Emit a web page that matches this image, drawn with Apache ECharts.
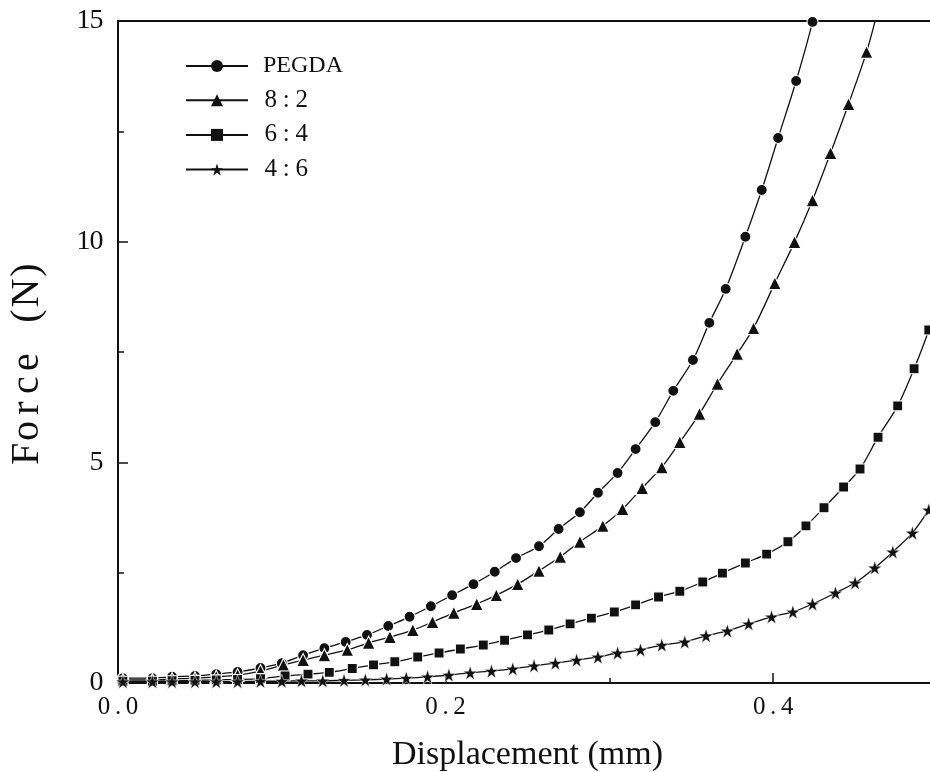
<!DOCTYPE html>
<html>
<head>
<meta charset="utf-8">
<script src="https://cdn.jsdelivr.net/npm/echarts@6/dist/echarts.min.js"></script>
<style>html,body{margin:0;padding:0;background:#fff}#c{width:930px;height:772px}</style>
</head>
<body>
<div id="c"></div>
<script>
// ---- data (Displacement in mm, Force in N) ----
const seriesNames = ['PEGDA', '8:2', '6:4', '4:6'];

const pegdaX = [0.003,0.021,0.033,0.047,0.060,0.073,0.087,0.100,0.113,0.126,0.139,0.152,0.165,0.178,0.191,0.204,0.217,0.230,0.243,0.257,0.269,0.282,0.293,0.305,0.316,0.328,0.339,0.351,0.361,0.371,0.383,0.393,0.403,0.414,0.424,0.433];
const pegdaY = [0.11,0.11,0.14,0.16,0.20,0.25,0.34,0.45,0.63,0.79,0.93,1.09,1.29,1.50,1.74,1.99,2.24,2.52,2.83,3.10,3.49,3.87,4.31,4.76,5.30,5.91,6.62,7.32,8.16,8.93,10.11,11.17,12.35,13.64,14.98,16.5];

const r82X = [0.003,0.021,0.033,0.047,0.060,0.073,0.087,0.101,0.113,0.126,0.140,0.153,0.166,0.180,0.192,0.205,0.219,0.231,0.244,0.257,0.270,0.282,0.296,0.308,0.320,0.332,0.343,0.355,0.366,0.378,0.388,0.401,0.413,0.424,0.435,0.446,0.457,0.465];
const r82Y = [0.07,0.07,0.09,0.11,0.14,0.18,0.27,0.41,0.52,0.63,0.75,0.91,1.04,1.20,1.38,1.59,1.79,1.99,2.24,2.54,2.86,3.20,3.56,3.94,4.42,4.89,5.46,6.10,6.78,7.46,8.04,9.06,9.99,10.94,12.01,13.12,14.30,15.4];

const r64X = [0.003,0.021,0.033,0.047,0.060,0.073,0.087,0.102,0.116,0.129,0.143,0.156,0.169,0.183,0.196,0.209,0.223,0.236,0.250,0.263,0.276,0.289,0.303,0.316,0.330,0.343,0.357,0.369,0.383,0.396,0.409,0.420,0.431,0.443,0.453,0.464,0.476,0.486,0.495,0.505];
const r64Y = [0.04,0.04,0.05,0.06,0.07,0.08,0.10,0.16,0.20,0.24,0.33,0.41,0.48,0.59,0.68,0.77,0.86,0.97,1.09,1.20,1.34,1.47,1.61,1.77,1.95,2.08,2.29,2.49,2.72,2.92,3.20,3.56,3.97,4.44,4.85,5.57,6.28,7.12,8.00,9.2];

const r46X = [0.003,0.021,0.033,0.047,0.060,0.073,0.087,0.100,0.112,0.125,0.138,0.151,0.164,0.176,0.189,0.202,0.215,0.228,0.241,0.254,0.267,0.280,0.293,0.305,0.319,0.332,0.346,0.359,0.372,0.385,0.399,0.412,0.424,0.438,0.450,0.462,0.473,0.485,0.495,0.505];
const r46Y = [0.03,0.03,0.03,0.03,0.03,0.03,0.04,0.04,0.05,0.05,0.06,0.07,0.09,0.11,0.14,0.18,0.23,0.27,0.32,0.39,0.45,0.52,0.59,0.68,0.75,0.86,0.93,1.07,1.18,1.34,1.50,1.61,1.79,2.04,2.27,2.61,2.97,3.40,3.92,4.5];

const xTickLabels = ['0.0', '0.2', '0.4'];
const yTickLabels = ['0', '5', '10', '15'];

// ---- chart ----
const FONT = 'Liberation Serif';
const INK = '#111';
const starPath = 'path://M50,0 L61.8,35.4 L99,35.4 L69,57.3 L80.4,92.7 L50,70.8 L19.6,92.7 L31,57.3 L1,35.4 L38.2,35.4 Z';
const symbols = ['circle', 'triangle', 'rect', starPath];
const symbolSizes = [11, 13, 10, 14];
const borderWidths = [1.1, 1.1, 1.1, 0.5];
const xs = [pegdaX, r82X, r64X, r46X];
const ys = [pegdaY, r82Y, r64Y, r46Y];

function pairs(a, b) { return a.map((v, i) => [v, b[i]]); }
// fixed-pitch cells, imitating the half-width face of the original
function mono(str, style) {
  return Array.from(str).map(ch => '{' + style + '|' + ch + '}').join('');
}
function cell(size, w) {
  return { fontFamily: FONT, fontSize: size, color: INK, width: w, align: 'center' };
}

const series = seriesNames.map((name, k) => ({
  name: name,
  type: 'line',
  xAxisIndex: 0,
  yAxisIndex: 0,
  data: pairs(xs[k], ys[k]),
  symbol: symbols[k],
  symbolSize: symbolSizes[k],
  showSymbol: true,
  smooth: 0.3,
  clip: true,
  lineStyle: { color: INK, width: 1.3 },
  itemStyle: { color: INK, borderColor: '#fff', borderWidth: borderWidths[k] },
  emphasis: { disabled: true },
  animation: false
}));

const chart = echarts.init(document.getElementById('c'), null, { renderer: 'canvas' });
chart.setOption({
  backgroundColor: '#fff',
  animation: false,
  grid: {
    left: 118, top: 21, width: 819, height: 662,
    outerBoundsMode: 'none', containLabel: false,
    show: true, borderColor: INK, borderWidth: 2, backgroundColor: 'transparent'
  },
  legend: {
    orient: 'vertical',
    left: 185,
    top: 54,
    padding: 0,
    itemWidth: 62,
    itemHeight: 15,
    itemGap: 9.7,
    data: seriesNames,
    itemStyle: { borderWidth: 0 },
    formatter: function (name) { return name.indexOf(':') >= 0 ? mono(name, 'c') : '{p|' + name + '}'; },
    textStyle: {
      fontFamily: FONT, fontSize: 25, color: INK, padding: [0, 0, 0, 10],
      rich: { c: cell(25, 15.5), p: { fontFamily: FONT, fontSize: 24, color: INK } }
    }
  },
  xAxis: [
    {
      type: 'value', min: 0, max: 0.5, interval: 0.1,
      name: 'Displacement (mm)', nameLocation: 'middle', nameGap: 55,
      nameTextStyle: { fontFamily: FONT, fontSize: 34, color: INK },
      axisLine: { show: true, lineStyle: { color: INK, width: 2 } },
      axisTick: { show: true, inside: true, length: 5, lineStyle: { color: INK, width: 1.5 } },
      axisLabel: {
        show: true, margin: 12, fontFamily: FONT, fontSize: 25, color: INK,
        rich: { t: cell(25, 14) },
        formatter: function (v) {
          const idx = xTickLabels.indexOf(v.toFixed(1));
          return idx >= 0 ? mono(xTickLabels[idx], 't') : '';
        }
      },
      splitLine: { show: false }
    },
    {
      type: 'value', min: 0, max: 0.5, interval: 0.2, position: 'bottom',
      axisLine: { show: false },
      axisTick: { show: true, inside: true, length: 10, lineStyle: { color: INK, width: 1.5 } },
      axisLabel: { show: false },
      splitLine: { show: false }
    }
  ],
  yAxis: {
    type: 'value', min: 0, max: 15, interval: 5,
    name: mono('Force (N)', 'n'), nameLocation: 'middle', nameGap: 71,
    nameTextStyle: { fontFamily: FONT, fontSize: 40, color: INK, padding: [0, 20, 0, 0], rich: { n: cell(40, 23) } },
    axisLine: { show: true, lineStyle: { color: INK, width: 2 } },
    axisTick: { show: true, inside: true, length: 10, lineStyle: { color: INK, width: 1.5 } },
    minorTick: { show: true, splitNumber: 2, length: 6, lineStyle: { color: INK, width: 1.5 } },
    axisLabel: {
      margin: 15, fontFamily: FONT, fontSize: 28, color: INK,
      rich: { t: cell(28, 13) },
      formatter: function (v) { return mono(yTickLabels[Math.round(v / 5)] || '', 't'); }
    },
    splitLine: { show: false }
  },
  series: series
});
</script>
</body>
</html>
